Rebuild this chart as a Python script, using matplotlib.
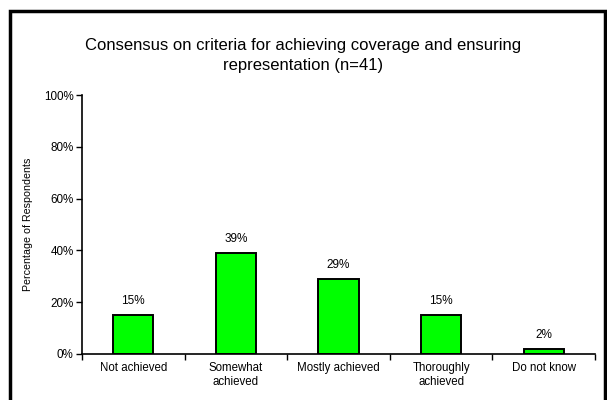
import matplotlib.pyplot as plt
from matplotlib.patches import Rectangle

categories = ["Not achieved", "Somewhat\nachieved", "Mostly achieved",
              "Thoroughly\nachieved", "Do not know"]
percentages = [15, 39, 29, 15, 2]
bar_labels = ["15%", "39%", "29%", "15%", "2%"]
y_ticks = [0, 20, 40, 60, 80, 100]
y_tick_labels = ["0%", "20%", "40%", "60%", "80%", "100%"]

plt.rcParams["font.family"] = ["Liberation Sans", "DejaVu Sans"]

fig = plt.figure(figsize=(6.07, 4.00), dpi=100)
W, H = 607, 400

# outer frame (open at the bottom edge)
fig.patches.append(Rectangle((9.5 / W, -0.05), (604.5 - 9.5) / W, (H - 10.5) / H + 0.05,
                             transform=fig.transFigure, fill=False,
                             edgecolor="black", linewidth=2.5))

ax = fig.add_axes([82 / W, (H - 354) / H, (595 - 82) / W, (354 - 95) / H])

x = range(len(categories))
ax.bar(x, percentages, width=0.39, color="#00ff00", edgecolor="black", linewidth=1.4)
for xi, v, lab in zip(x, percentages, bar_labels):
    ax.text(xi, v + 3, lab, ha="center", va="bottom", fontsize=8.5)

ax.set_xlim(-0.5, len(categories) - 0.5)
ax.set_ylim(0, 100)
ax.set_yticks(y_ticks)
ax.set_yticklabels(y_tick_labels, fontsize=8.4)
ax.set_xticks([i - 0.5 for i in range(len(categories) + 1)])
ax.set_xticklabels([])
ax.set_xticks(list(x), minor=True)
ax.set_xticklabels(categories, minor=True, fontsize=8.3)
ax.tick_params(axis="x", which="minor", length=0, pad=6)
ax.tick_params(axis="x", which="major", length=4, width=1, direction="out")
ax.tick_params(axis="y", length=4, width=1, direction="out", pad=2)

ax.spines["top"].set_visible(False)
ax.spines["right"].set_visible(False)
ax.spines["left"].set_linewidth(1.2)
ax.spines["bottom"].set_linewidth(1.2)

ax.set_ylabel("Percentage of Respondents", fontsize=7.7, labelpad=8)

fig.text(0.5, (H - 55.5) / H, "Consensus on criteria for achieving coverage and ensuring\nrepresentation (n=41)",
         ha="center", va="center", fontsize=12, linespacing=1.4)

fig.savefig("out.png", dpi=100)
